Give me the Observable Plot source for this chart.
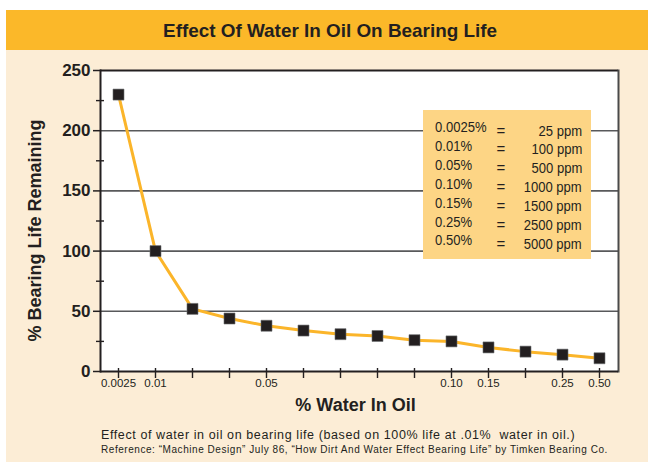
<!DOCTYPE html>
<html>
<head>
<meta charset="utf-8">
<script src="https://cdn.jsdelivr.net/npm/d3@7"></script>
<script src="https://cdn.jsdelivr.net/npm/@observablehq/plot@0.6"></script>
<style>
  html, body { margin: 0; padding: 0; background: #ffffff; }
  body { width: 648px; height: 462px; position: relative; overflow: hidden; font-family: "Liberation Sans", Arial, sans-serif; }
  #wrap { position: absolute; left: 6px; top: 10px; width: 642px; height: 452px; background: #FCEDD6; }
  #header { position: absolute; left: 0; top: 0; width: 642px; height: 40px; background: #FBB829; }
  #titlebox { position: absolute; left: 0; width: 648px; top: 0; height: 40px; text-align: center; }
  #title { display: inline-block; line-height: 42px; font-family: "Liberation Sans", Arial, sans-serif; font-weight: bold;
           font-size: 19px; color: #231F20; transform-origin: center center; white-space: nowrap; }
  #chart { position: absolute; left: 0; top: 40px; }
  #legend { position: absolute; left: 417px; top: 100px; width: 168px; height: 149px; background: #FDD585;
            font-family: "Liberation Sans", Arial, sans-serif; font-size: 15px; color: #231F20; }
  #legend .row { position: absolute; left: 0; width: 168px; height: 19px; }
  #legend span { position: absolute; white-space: nowrap; line-height: 17px; }
  #legend .pct { left: 12px; top: -3.5px; transform: scaleX(0.87); transform-origin: left center; }
  #legend .eq { left: 72px; width: 12px; text-align: center; }
  #legend .ppm { right: 9px; transform: scaleX(0.87); transform-origin: right center; }
  #cap1 { position: absolute; left: 95px; top: 418px; font-size: 12.5px; letter-spacing: 0.6px; color: #231F20; white-space: nowrap; }
  #cap2 { position: absolute; left: 95px; top: 434px; font-size: 10px; color: #231F20; white-space: nowrap; letter-spacing: 0.55px; }
</style>
</head>
<body>
<div id="wrap">
  <div id="header"></div>
  <div id="titlebox"><span id="title">Effect Of Water In Oil On Bearing Life</span></div>
  <div id="chart"></div>
  <div id="legend"></div>
  <div id="cap1">Effect of water in oil on bearing life (based on 100% life at .01%&nbsp; water in oil.)</div>
  <div id="cap2">Reference: “Machine Design” July 86, “How Dirt And Water Effect Bearing Life” by Timken Bearing Co.</div>
</div>
<script>
// Data (x categories are equally spaced positions; only some are labelled)
const waterPct = ["0.0025", "0.01", "0.02", "0.03", "0.05", "0.06", "0.07", "0.08", "0.09", "0.10", "0.15", "0.20", "0.25", "0.50"];
const lifeRemaining = [230, 100, 52, 44, 38, 34, 31, 29.5, 26, 25, 20, 16.5, 14, 11];
const labelledTicks = ["0.0025", "0.01", "0.05", "0.10", "0.15", "0.25", "0.50"];
const yMajorTicks = [0, 50, 100, 150, 200, 250];
const yMinorTicks = [25, 75, 125, 175, 225];
const gridValues = [50, 100, 150, 200];
const legendPct = ["0.0025%", "0.01%", "0.05%", "0.10%", "0.15%", "0.25%", "0.50%"];
const legendPpm = ["25 ppm", "100 ppm", "500 ppm", "1000 ppm", "1500 ppm", "2500 ppm", "5000 ppm"];

const data = waterPct.map((w, i) => ({water: w, life: lifeRemaining[i]}));

const ink = "#231F20";
const W = 642, H = 370;
const mL = 94, mR = 30, mT = 20, mB = 49;
const frameW = W - mL - mR, frameH = H - mT - mB;

const chart = Plot.plot({
  width: W,
  height: H,
  marginLeft: mL,
  marginRight: mR,
  marginTop: mT,
  marginBottom: mB,
  style: {background: "transparent", color: ink, fontFamily: "'Liberation Sans', Arial, sans-serif"},
  x: {type: "point", domain: waterPct, range: [108.5, 595.5], padding: 0},
  y: {type: "linear", domain: [0, 250], range: [H - mB, mT]},
  marks: [
    Plot.frame({fill: "white", stroke: null}),
    Plot.ruleY(gridValues, {stroke: "#58595B", strokeWidth: 1.6}),
    Plot.ruleY([250], {stroke: ink, strokeWidth: 2}),
    Plot.frame({anchor: "right", stroke: "#4a4a4a", strokeWidth: 2}),
    Plot.frame({anchor: "left", stroke: ink, strokeWidth: 2}),
    Plot.ruleY([0], {stroke: ink, strokeWidth: 2.2}),
    Plot.axisY({ticks: yMajorTicks, tickSize: 7, tickPadding: 3, fontSize: 17, fontWeight: "bold", stroke: ink, strokeWidth: 1.5, label: null}),
    Plot.tickY(yMinorTicks, {y: d => d, insetRight: frameW - 8, dx: -4, stroke: ink, strokeWidth: 1.4}),
    Plot.tickX(waterPct, {x: d => d, insetTop: frameH - 3, insetBottom: -7, stroke: ink, strokeWidth: 1.4}),
    Plot.axisX({ticks: waterPct, tickSize: 0, tickPadding: 7, fontSize: 11.5,
      tickFormat: d => labelledTicks.includes(d) ? d : "", label: null}),
    Plot.text(["% Water In Oil"], {frameAnchor: "bottom", dy: 39, dx: -4, fontSize: 18, fontWeight: "bold", fill: ink}),
    Plot.text(["% Bearing Life Remaining"], {frameAnchor: "left", textAnchor: "middle", rotate: -90, dx: -65, dy: 9.5, fontSize: 18, fontWeight: "bold", fill: ink}),
    Plot.line(data, {x: "water", y: "life", stroke: "#FBB52A", strokeWidth: 3}),
    Plot.dot(data, {x: "water", y: "life", symbol: "square", r: 6.2, fill: ink, stroke: "#6d6e71", strokeWidth: 0.6})
  ]
});
document.getElementById("chart").appendChild(chart);

// fit the condensed-looking title to its width in the reference
const title = document.getElementById("title");
const tw = title.getBoundingClientRect().width;
title.style.transform = `scaleX(${Math.min(1, 334 / tw)})`;

const legend = document.getElementById("legend");
legendPct.forEach((p, i) => {
  const row = document.createElement("div");
  row.className = "row";
  row.style.top = (11.5 + i * 18.9) + "px";
  row.innerHTML = `<span class="pct">${p}</span><span class="eq">=</span><span class="ppm">${legendPpm[i]}</span>`;
  legend.appendChild(row);
});
</script>
</body>
</html>
